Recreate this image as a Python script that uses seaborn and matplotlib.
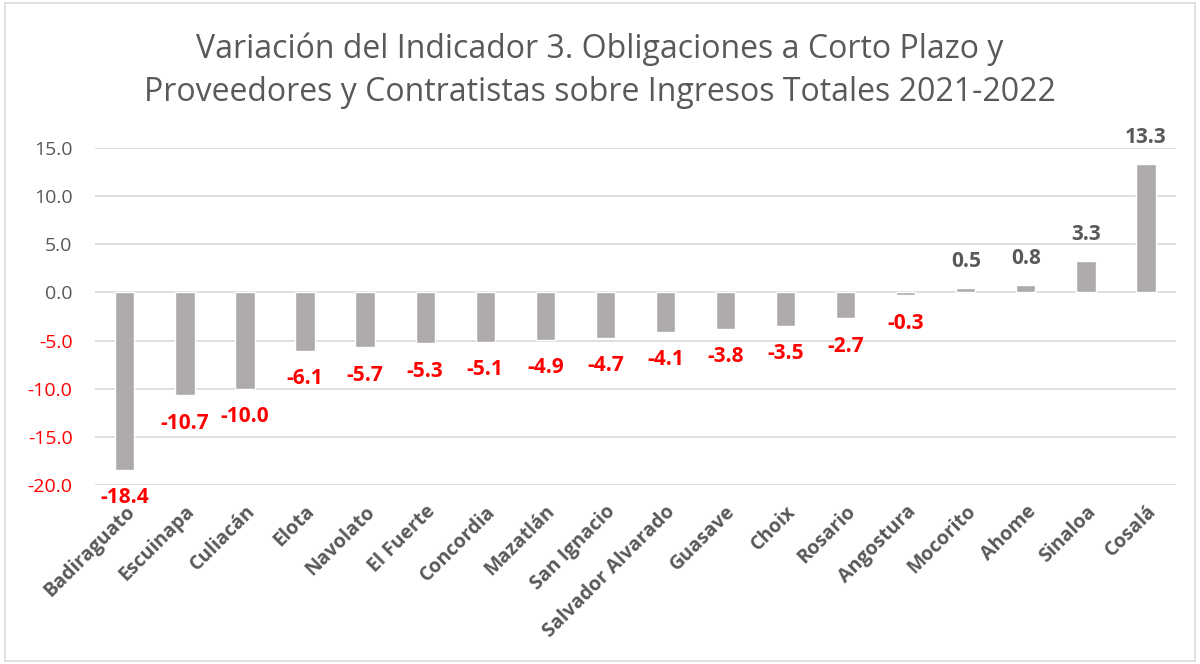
import matplotlib
matplotlib.use("Agg")
import matplotlib.pyplot as plt
import seaborn as sns
import pandas as pd
from matplotlib.patches import Rectangle

# Datos del gráfico
municipios = ["Badiraguato", "Escuinapa", "Culiacán", "Elota", "Navolato", "El Fuerte",
              "Concordia", "Mazatlán", "San Ignacio", "Salvador Alvarado", "Guasave",
              "Choix", "Rosario", "Angostura", "Mocorito", "Ahome", "Sinaloa", "Cosalá"]
variacion = [-18.4, -10.7, -10.0, -6.1, -5.7, -5.3, -5.1, -4.9, -4.7, -4.1, -3.8,
             -3.5, -2.7, -0.3, 0.5, 0.8, 3.3, 13.3]
y_ticks = [-20, -15, -10, -5, 0, 5, 10, 15]

titulo = ("Variación del Indicador 3. Obligaciones a Corto Plazo y\n"
          "Proveedores y Contratistas sobre Ingresos Totales 2021-2022")

df = pd.DataFrame({"municipio": municipios, "variacion": variacion})

sns.set_style("white")
plt.rcParams["font.family"] = ["Open Sans", "DejaVu Sans"]

gris = "#595959"
rojo = "#FF0000"

fig = plt.figure(figsize=(12, 6.64), dpi=100)
ax = fig.add_axes([0.079, 0.2696, 0.901, 0.5075])

sns.barplot(data=df, x="municipio", y="variacion", color="#AEAAAA",
            saturation=1, width=0.32, ax=ax)

ax.set_ylim(-20, 15)
ax.set_xlim(-0.5, len(municipios) - 0.5)
ax.set_yticks(y_ticks)
ax.set_yticklabels([f"{t:.1f}" for t in y_ticks], fontsize=14)
for lbl, t in zip(ax.get_yticklabels(), y_ticks):
    lbl.set_color(rojo if t < 0 else gris)
ax.tick_params(axis="y", length=0, pad=16)

ax.set_xticks(range(len(municipios)))
ax.set_xticklabels(municipios, rotation=45, ha="right", rotation_mode="anchor",
                   fontsize=14, fontweight="bold", color=gris)
ax.tick_params(axis="x", length=0, pad=12)

ax.yaxis.grid(True, color="#D9D9D9", linewidth=1.2)
ax.set_axisbelow(True)
for s in ax.spines.values():
    s.set_visible(False)
ax.set_xlabel("")
ax.set_ylabel("")

# Etiquetas de datos
for i, v in enumerate(variacion):
    ax.annotate(f"{v:.1f}", xy=(i, v), xytext=(0, 19 if v >= 0 else -20),
                textcoords="offset points", ha="center", va="center",
                fontsize=15, fontweight="bold",
                color=gris if v >= 0 else rojo, annotation_clip=False)

fig.text(0.5, 0.894, titulo, ha="center", va="center", fontsize=23,
         color=gris, linespacing=1.4)

# Borde del gráfico
fig.patches.append(Rectangle((0.004, 0.004), 0.992, 0.992, transform=fig.transFigure,
                             fill=False, edgecolor="#D9D9D9", linewidth=1.2))

fig.savefig("out.png", dpi=100, facecolor="white")
